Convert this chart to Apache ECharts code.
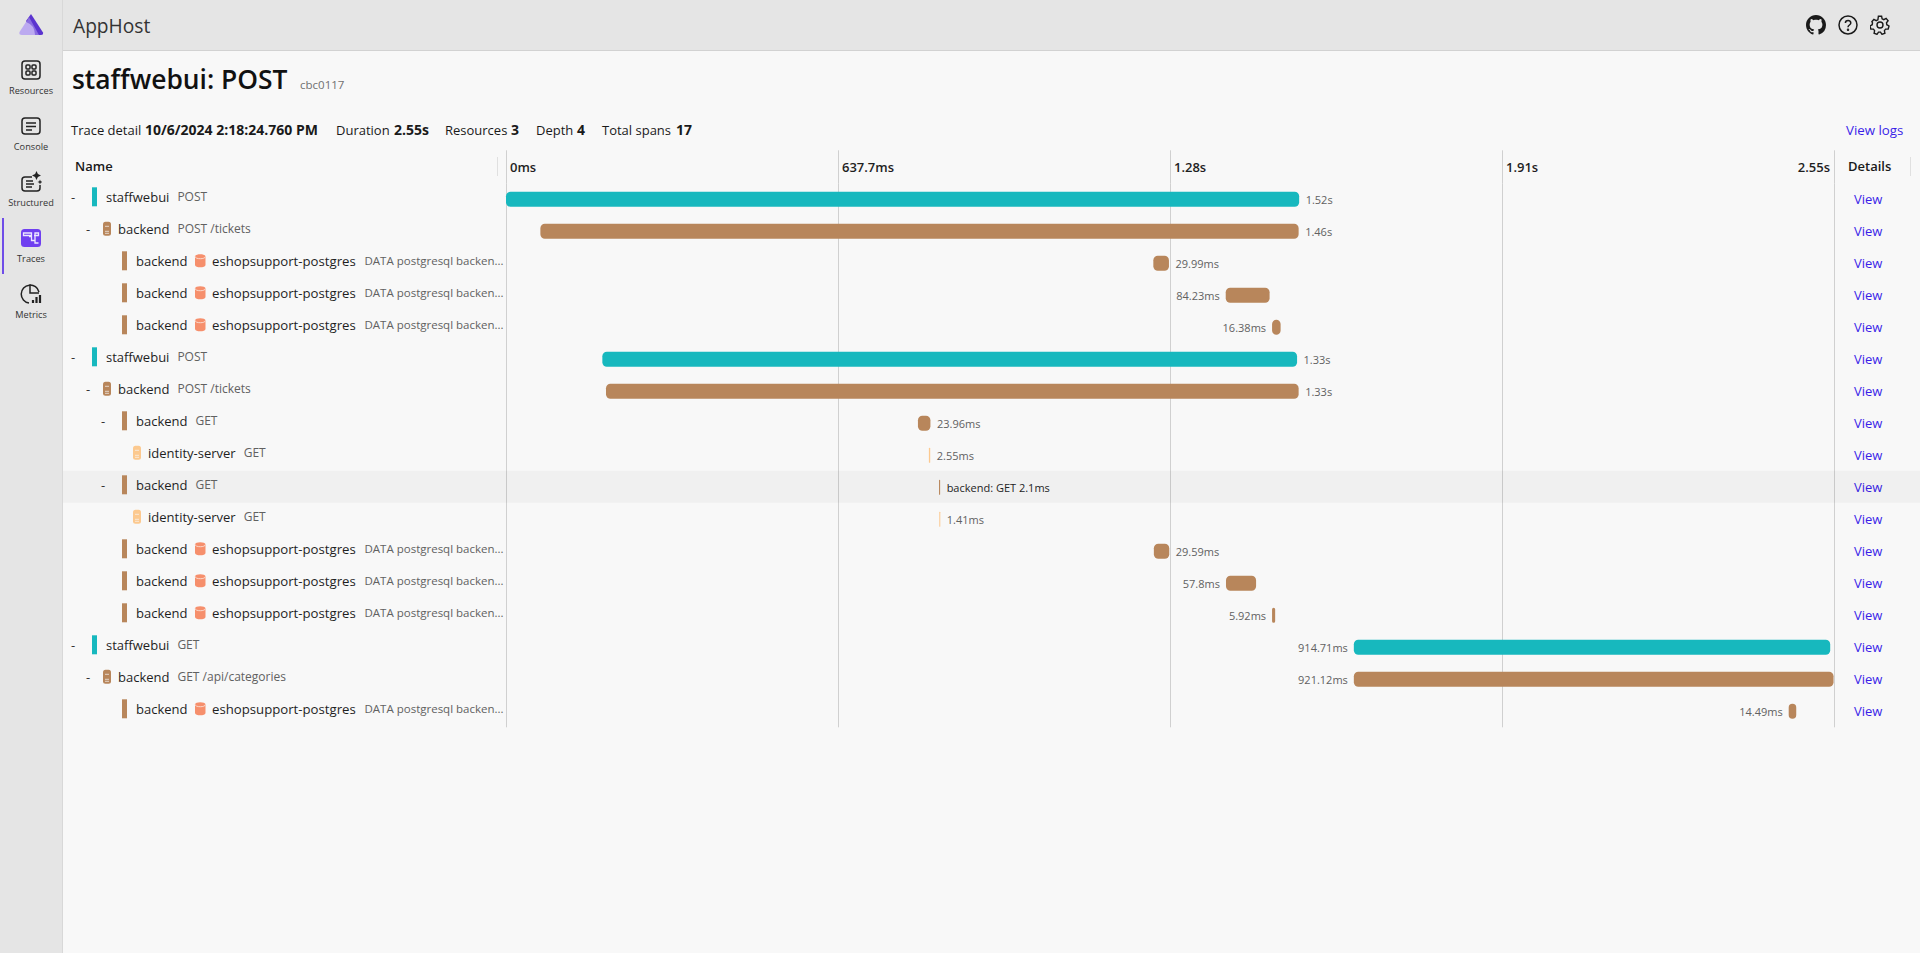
<!DOCTYPE html>
<html>
<head>
<meta charset="utf-8">
<title>staffwebui: POST</title>
<script src="https://cdn.jsdelivr.net/npm/echarts@6/dist/echarts.min.js"></script>
<style>
  html, body { margin: 0; padding: 0; width: 1920px; height: 953px; overflow: hidden; background: #f8f8f8; font-family: "Open Sans", sans-serif; color: #1a1a1a; }
  #chart { position: absolute; left: 0; top: 0; width: 1920px; height: 953px; }
  .abs { position: absolute; white-space: nowrap; line-height: 1; }
  #top { position: absolute; left: 0; top: 0; width: 1920px; height: 50px; background: #e5e5e5; border-bottom: 1px solid #d2d2d2; }
  #side { position: absolute; left: 0; top: 0; width: 62px; height: 953px; background: #e5e5e5; border-right: 1px solid #d8d8d8; }
  .nav { position: absolute; left: 0; width: 62px; text-align: center; font-size: 9.2px; line-height: 1; color: #333; }
  .nav svg { position: absolute; left: 20px; top: -27px; }
  .sep { position: absolute; width: 1px; background: #e0e0e0; }
  b { font-weight: 700; font-size: 14px; }
</style>
</head>
<body>
<div id="chart"></div>
<div id="top"></div>
<div id="side"></div>
<svg class="abs" style="left:18px;top:13px" width="26" height="23" viewBox="0 0 26 23">
  <path d="M13 1 L25 19.500 Q25.500 22 23 22 L18 22 L8 8 Z" fill="#5b34cf"/>
  <path d="M11 4 L21 22 L10 22 L7 12 Z" fill="#8a6de0"/>
  <path d="M8 9 Q17 12 17 22 L4 22 Q0.500 22 1.500 19 Z" fill="#bcaaf0"/>
</svg>
<div class="abs" style="left:73px;top:16px;font-size:19.200px;color:#333">AppHost</div>

<svg class="abs" style="left:1806px;top:15px" width="20" height="20" viewBox="0 0 16 16"><path fill="#1a1a1a" d="M8 0C3.58 0 0 3.58 0 8c0 3.54 2.29 6.53 5.47 7.59.4.07.55-.17.55-.38 0-.19-.01-.82-.01-1.49-2.01.37-2.53-.49-2.69-.94-.09-.23-.48-.94-.82-1.13-.28-.15-.68-.52-.01-.53.63-.01 1.08.58 1.23.82.72 1.21 1.87.87 2.33.66.07-.52.28-.87.51-1.07-1.78-.2-3.64-.89-3.64-3.95 0-.87.31-1.59.82-2.15-.08-.2-.36-1.02.08-2.12 0 0 .67-.21 2.2.82.64-.18 1.32-.27 2-.27s1.36.09 2 .27c1.53-1.04 2.2-.82 2.2-.82.44 1.1.16 1.92.08 2.12.51.56.82 1.27.82 2.15 0 3.07-1.87 3.75-3.65 3.95.29.25.54.73.54 1.48 0 1.07-.01 1.93-.01 2.2 0 .21.15.46.55.38A8.01 8.01 0 0016 8c0-4.42-3.58-8-8-8z"/></svg>
<svg class="abs" style="left:1838px;top:15px" width="20" height="20" viewBox="0 0 20 20" fill="none" stroke="#1a1a1a" stroke-width="1.5"><circle cx="10" cy="10" r="9"/><path d="M7.400 8c0-3.300 5.400-3.300 5.400 0 0 2-2.800 2-2.800 4.200"/><circle cx="10" cy="14.800" r=".5"/></svg>
<svg class="abs" style="left:1870px;top:15px" width="20" height="20" viewBox="0 0 20 20" fill="none" stroke="#1a1a1a" stroke-width="1.4"><circle cx="10" cy="10" r="3"/><path d="M8.400 1.200h3.200l.5 2.600 1.700.8 2.300-1.300 2 2.400-1.600 2.100.3 1.900 2.200 1.300-.8 3-2.600.1-1.200 1.500.5 2.600-2.900 1.100-1.500-2.200h-2l-1.500 2.200-2.900-1.100.5-2.600-1.200-1.500-2.600-.1-.8-3 2.200-1.300.3-1.900L1.900 6.700l2-2.400 2.300 1.300 1.700-.8z"/></svg>

<div class="nav" style="top:86px"><svg width="22" height="22" viewBox="0 0 22 22" fill="none" stroke="#222" stroke-width="1.5"><rect x="2" y="2" width="18" height="18" rx="3"/><rect x="6" y="6" width="4" height="4" rx="1"/><rect x="12" y="6" width="4" height="4" rx="1"/><rect x="6" y="12" width="4" height="4" rx="1"/><rect x="12" y="12" width="4" height="4" rx="1"/></svg>Resources</div>
<div class="nav" style="top:142px"><svg width="22" height="22" viewBox="0 0 22 22" fill="none" stroke="#222" stroke-width="1.5"><rect x="2" y="3" width="18" height="16" rx="3"/><path d="M6 8h10M6 11.500h10M6 15h6"/></svg>Console</div>
<div class="nav" style="top:198px"><svg width="22" height="22" viewBox="0 0 22 22" fill="none" stroke="#222" stroke-width="1.5"><path d="M12 6H5a3 3 0 0 0-3 3v8a3 3 0 0 0 3 3h12a3 3 0 0 0 3-3v-3"/><path d="M6 10h7M6 13h8M6 16h6"/><path d="M16.500 0l1.400 3.100 3.100 1.400-3.100 1.400-1.400 3.100-1.400-3.100-3.100-1.400 3.100-1.400z" fill="#222" stroke="none"/><path d="M20 8.500l.7 1.800 1.800.7-1.800.7-.7 1.800-.7-1.800-1.800-.7 1.800-.7z" fill="#222" stroke="none"/></svg>Structured</div>
<div class="nav" style="top:254px;color:#333"><svg width="22" height="22" viewBox="0 0 22 22"><rect x="1" y="2" width="20" height="18" rx="3.500" fill="#6f3ff0"/><path d="M3.500 6h8v2.500h-8zM9 9.500h2.500v4H15v2.500h3.500M14 8.500h4.500V6H15v7" fill="none" stroke="#ece6ff" stroke-width="1.300"/></svg>Traces</div>
<div class="abs" style="left:2px;top:218px;width:2px;height:56px;background:#6f4de8"></div>
<div class="nav" style="top:310px"><svg width="22" height="22" viewBox="0 0 22 22" fill="none" stroke="#222" stroke-width="1.500"><path d="M19 9A9 9 0 1 0 9 20"/><path d="M10 1.500V10h9"/><path d="M13 20v-3M16.500 20v-6M20 20v-8" stroke-width="2.200"/></svg>Metrics</div>

<div class="abs" style="left:72px;top:66px;font-size:26.400px;font-weight:600;color:#111">staffwebui: POST</div>
<div class="abs" style="left:300px;top:79px;font-size:11.500px;color:#707070">cbc0117</div>

<div class="abs" style="left:71px;top:124px;font-size:13px">Trace detail</div>
<div class="abs" style="left:145px;top:123px;font-size:13px"><b>10/6/2024 2:18:24.760 PM</b></div>
<div class="abs" style="left:336px;top:124px;font-size:13px">Duration</div>
<div class="abs" style="left:394px;top:123px;font-size:13px"><b>2.55s</b></div>
<div class="abs" style="left:445px;top:124px;font-size:13px">Resources</div>
<div class="abs" style="left:511px;top:123px;font-size:13px"><b>3</b></div>
<div class="abs" style="left:536px;top:124px;font-size:13px">Depth</div>
<div class="abs" style="left:577px;top:123px;font-size:13px"><b>4</b></div>
<div class="abs" style="left:602px;top:124px;font-size:13px">Total spans</div>
<div class="abs" style="left:676px;top:123px;font-size:13px"><b>17</b></div>
<div class="abs" style="left:1846px;top:124px;font-size:13.300px;color:#3a1fe8">View logs</div>

<div class="abs" style="left:75px;top:160px;font-size:13px;font-weight:600">Name</div>
<div class="abs" style="left:1848px;top:160px;font-size:13px;font-weight:600">Details</div>
<div class="sep" style="left:497px;top:157px;height:19px"></div>
<div class="sep" style="left:1910px;top:157px;height:19px"></div>

<script>
// rows of the trace table, top to bottom
var services = ['staffwebui', 'backend', 'backend', 'backend', 'backend', 'staffwebui', 'backend', 'backend', 'identity-server', 'backend', 'identity-server', 'backend', 'backend', 'backend', 'staffwebui', 'backend', 'backend'];
var operations = ['POST', 'POST /tickets', '', '', '', 'POST', 'POST /tickets', 'GET', 'GET', 'GET', 'GET', '', '', '', 'GET', 'GET /api/categories', ''];
var peers = ['', '', 'eshopsupport-postgres', 'eshopsupport-postgres', 'eshopsupport-postgres', '', '', '', '', '', '', 'eshopsupport-postgres', 'eshopsupport-postgres', 'eshopsupport-postgres', '', '', 'eshopsupport-postgres'];
var depths = [0, 1, 2, 2, 2, 0, 1, 2, 3, 2, 3, 2, 2, 2, 0, 1, 2];
var collapsible = [1, 1, 0, 0, 0, 1, 1, 1, 0, 1, 0, 0, 0, 0, 1, 1, 0];

// span start and length in ms
var startMs = [0, 66, 1243, 1382, 1471, 185, 192, 791, 812, 831.5, 832, 1244, 1382.5, 1471, 1628, 1628, 2463];
var durationMs = [1523, 1456, 29.99, 84.23, 16.38, 1334, 1330, 23.96, 2.55, 2.1, 1.41, 29.59, 57.8, 5.92, 914.71, 921.12, 14.49];
var durationLabels = ['1.52s', '1.46s', '29.99ms', '84.23ms', '16.38ms', '1.33s', '1.33s', '23.96ms', '2.55ms', '2.1ms', '1.41ms', '29.59ms', '57.8ms', '5.92ms', '914.71ms', '921.12ms', '14.49ms'];

var timeTicks = ['0ms', '637.7ms', '1.28s', '1.91s', '2.55s'];
var totalMs = 2550;
var hoverRow = 9;

var serviceColors = { 'staffwebui': '#17b8be', 'backend': '#b8865b', 'identity-server': '#fcc98f' };
var peerColor = '#f68f6c';
var FONT = '"Open Sans", sans-serif';
var dbText = 'DATA postgresql backen...';
var NAME_SHIFT = -2.5; // name column sits a little above the bars

function rowIds() {
  return services.map(function (s, i) { return i; });
}

function nameText(x, y, i) {
  var txt = '{n|' + services[i] + '}';
  if (operations[i]) {
    txt += '{o|' + operations[i] + '}';
  }
  return {
    type: 'text',
    style: {
      x: x, y: y, text: txt, verticalAlign: 'middle', font: '13px ' + FONT,
      rich: {
        n: { fontSize: 13, fontFamily: FONT, fill: '#1f1f1f', color: '#1f1f1f' },
        o: { fontSize: 12, fontFamily: FONT, fill: '#616161', color: '#616161', padding: [0, 0, 0, 8] }
      }
    }
  };
}

function serverIcon(x, y, color) {
  return [
    { type: 'rect', shape: { x: x, y: y - 7, width: 8, height: 14, r: 2.5 }, style: { fill: color } },
    { type: 'rect', shape: { x: x + 2, y: y - 3, width: 4, height: 1 }, style: { fill: '#f8f8f8', opacity: 0.7 } },
    { type: 'rect', shape: { x: x + 2, y: y + 2, width: 4, height: 1 }, style: { fill: '#f8f8f8', opacity: 0.7 } },
    { type: 'rect', shape: { x: x + 2, y: y + 4, width: 4, height: 1 }, style: { fill: '#f8f8f8', opacity: 0.7 } }
  ];
}

function dbIcon(x, y) {
  return [
    {
      type: 'path',
      shape: { pathData: 'M0 3C0 0 10 0 10 3V11C10 14 0 14 0 11Z', x: x, y: y - 7, width: 10.5, height: 14 },
      style: { fill: peerColor }
    },
    {
      type: 'path',
      shape: { pathData: 'M0 0C0 3 10 3 10 0', x: x, y: y - 4.5, width: 10.5, height: 2.5 },
      style: { fill: 'none', stroke: '#fbd9cc', lineWidth: 1 }
    }
  ];
}

// the name column, one group per row
function renderName(params, api) {
  var i = api.value(1);
  var rowY = api.coord([0, i])[1];
  var y = rowY + NAME_SHIFT;
  var d = depths[i];
  var kids = [];
  if (i === hoverRow) {
    kids.push({ type: 'rect', shape: { x: 63, y: rowY - 16.5, width: 1857, height: 32 }, style: { fill: 'rgba(0,0,0,0.032)' } });
  }
  if (collapsible[i]) {
    kids.push({ type: 'text', style: { x: 71 + d * 15, y: y, text: '-', verticalAlign: 'middle', font: '13px ' + FONT, fill: '#333' } });
  }
  var color = serviceColors[services[i]];
  if (d === 0) {
    kids.push({ type: 'rect', shape: { x: 92, y: y - 9.5, width: 5, height: 19 }, style: { fill: color } });
    kids.push(nameText(106, y, i));
  } else if (d === 1) {
    kids = kids.concat(serverIcon(103, y, color));
    kids.push(nameText(118, y, i));
  } else if (d === 2) {
    kids.push({ type: 'rect', shape: { x: 122, y: y - 9.5, width: 5, height: 19 }, style: { fill: color } });
    kids.push(nameText(136, y, i));
  } else {
    kids = kids.concat(serverIcon(133, y, color));
    kids.push(nameText(148, y, i));
  }
  if (peers[i]) {
    kids = kids.concat(dbIcon(195, y));
    kids.push({ type: 'text', style: { x: 212, y: y, text: peers[i], verticalAlign: 'middle', font: '13.2px ' + FONT, fill: '#1f1f1f' } });
    kids.push({ type: 'text', style: { x: 364.5, y: y, text: dbText, verticalAlign: 'middle', font: '11.5px ' + FONT, fill: '#616161' } });
  }
  return { type: 'group', children: kids };
}

// span bar and its duration label
function renderSpan(params, api) {
  var i = api.value(2);
  var p0 = api.coord([api.value(0), i]);
  var w = Math.max(api.size([api.value(1), 0])[0], 1);
  var h = 15;
  var onLeft = api.value(0) > totalMs / 2;
  var hovered = i === hoverRow;
  var label = hovered ? services[i] + ': ' + operations[i] + ' ' + durationLabels[i] : durationLabels[i];
  return {
    type: 'group',
    children: [
      {
        type: 'rect',
        shape: { x: p0[0], y: p0[1] - h / 2, width: w, height: h, r: Math.min(4.5, w / 2) },
        style: { fill: serviceColors[services[i]] }
      },
      {
        type: 'text',
        style: {
          x: onLeft ? p0[0] - 6 : p0[0] + w + 6.5,
          y: p0[1] + 0.5,
          text: label,
          align: onLeft ? 'right' : 'left',
          verticalAlign: 'middle',
          font: '11px ' + FONT,
          fill: hovered ? '#242424' : '#616161'
        }
      }
    ]
  };
}

var chart = echarts.init(document.getElementById('chart'), null, { renderer: 'svg' });
chart.setOption({
  animation: false,
  backgroundColor: 'transparent',
  grid: { left: 506, top: 183.3, width: 1328, height: 544 },
  xAxis: {
    type: 'value',
    position: 'top',
    min: 0,
    max: totalMs,
    interval: totalMs / 4,
    axisLine: { show: false },
    axisTick: { show: true, length: 33, lineStyle: { color: '#d0d0d0' } },
    splitLine: { show: true, lineStyle: { color: '#d0d0d0', width: 1 } },
    axisLabel: {
      margin: 10,
      showMinLabel: true,
      showMaxLabel: true,
      align: 'left',
      alignMaxLabel: 'right',
      color: '#1f1f1f',
      fontFamily: FONT,
      fontSize: 13,
      fontWeight: 600,
      formatter: function (v, idx) {
        return idx === timeTicks.length - 1 ? '{r|' + timeTicks[idx] + '}' : '{l|' + timeTicks[idx] + '}';
      },
      rich: {
        l: { padding: [0, 0, 0, 4], fontFamily: FONT, fontSize: 13, fontWeight: 600, color: '#1f1f1f' },
        r: { padding: [0, 4, 0, 0], fontFamily: FONT, fontSize: 13, fontWeight: 600, color: '#1f1f1f' }
      }
    }
  },
  yAxis: {
    type: 'category',
    position: 'right',
    inverse: true,
    data: rowIds(),
    axisLine: { show: false },
    axisTick: { show: false },
    axisLabel: {
      interval: 0,
      margin: 20,
      align: 'left',
      color: '#3a1fe8',
      fontFamily: FONT,
      fontSize: 13,
      formatter: function () { return 'View'; }
    }
  },
  series: [
    {
      name: 'names',
      type: 'custom',
      silent: true,
      renderItem: renderName,
      data: rowIds().map(function (i) { return [0, i]; })
    },
    {
      name: 'spans',
      type: 'custom',
      silent: true,
      encode: { x: 0, y: 2 },
      renderItem: renderSpan,
      data: rowIds().map(function (i) { return [startMs[i], durationMs[i], i]; })
    }
  ]
});
</script>
</body>
</html>
